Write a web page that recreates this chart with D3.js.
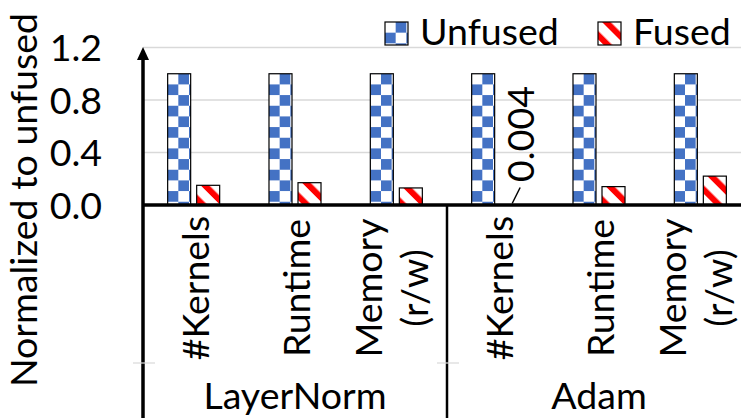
<!DOCTYPE html>
<html><head><meta charset="utf-8">
<script src="https://cdn.jsdelivr.net/npm/d3@7"></script>
<style>html,body{margin:0;padding:0;background:#fff;overflow:hidden}</style>
</head><body><svg id="c" width="741" height="418"></svg>
<script>
// ---- data ----
const groups = ["LayerNorm", "Adam"];
const metrics = [["#Kernels"], ["Runtime"], ["Memory", "(r/w)"]];
const seriesNames = ["Unfused", "Fused"];
const unfused = [1, 1, 1, 1, 1, 1];
const fused = [0.15, 0.17, 0.13, 0.004, 0.14, 0.22];
const fusedLabels = [null, null, null, "0.004", null, null];
const yTicks = [0.0, 0.4, 0.8, 1.2];
const yTitle = "Normalized to unfused";

// ---- style ----
const FONT = "Lato, 'Liberation Sans', sans-serif";
const FS = 37.5;
const BLUE = "#4472C4", RED = "#FF0000";

const svg = d3.select("#c");
svg.append("rect").attr("width", 741).attr("height", 418).attr("fill", "#fff");

const cats = [];
groups.forEach((g, gi) => metrics.forEach((m, mi) => cats.push({g, gi, m, key: g + "|" + m.join(" ")})));

const x0 = d3.scaleBand().domain(cats.map(c => c.key)).range([143, 751]).padding(0);
const x1 = d3.scaleBand().domain(seriesNames).range([0, x0.bandwidth()]).paddingInner(0.207).paddingOuter(0.85);
const y = d3.scaleLinear().domain([0, 1.2]).range([205, 47.5]);

// patterns
const defs = svg.append("defs");
const P = 21.33, h = P / 2;
const chk = defs.append("pattern").attr("id", "chk").attr("patternUnits", "userSpaceOnUse")
  .attr("width", P).attr("height", P);
chk.append("rect").attr("width", P).attr("height", P).attr("fill", "#fff");
chk.append("rect").attr("x", h).attr("y", 0).attr("width", h).attr("height", h).attr("fill", BLUE);
chk.append("rect").attr("x", 0).attr("y", h).attr("width", h).attr("height", h).attr("fill", BLUE);

const SP = P * Math.SQRT1_2;
const str = defs.append("pattern").attr("id", "str").attr("patternUnits", "userSpaceOnUse")
  .attr("width", SP).attr("height", SP).attr("patternTransform", "translate(4,0) rotate(-45)");
str.append("rect").attr("width", SP).attr("height", SP).attr("fill", "#fff");
str.append("rect").attr("x", 0).attr("width", SP * 0.4).attr("height", SP).attr("fill", RED);

// gridlines
svg.append("g").selectAll("line").data(yTicks.filter(t => t > 0)).join("line")
  .attr("x1", 143).attr("x2", 741).attr("y1", d => y(d)).attr("y2", d => y(d))
  .attr("stroke", "#d9d9d9").attr("stroke-width", 1.4);

// bars
const series = [{name: "Unfused", vals: unfused, fill: "url(#chk)"}, {name: "Fused", vals: fused, fill: "url(#str)"}];
series.forEach(s => {
  svg.append("g").selectAll("g").data(cats.map((c, i) => ({c, v: s.vals[i]}))).join("g")
    .attr("transform", d => `translate(${x0(d.c.key) + x1(s.name)},${y(d.v)})`)
    .append("rect")
    .attr("width", x1.bandwidth()).attr("height", d => y(0) - y(d.v))
    .attr("fill", s.fill).attr("stroke", d => d.v > 0.01 ? "#000" : "none").attr("stroke-width", 1.2);
});

// data label 0.004
cats.forEach((c, i) => {
  if (!fusedLabels[i]) return;
  const cx = x0(c.key) + x1("Fused") + x1.bandwidth() / 2;
  const yv = y(fused[i]);
  svg.append("line").attr("x1", cx).attr("y1", yv - 1).attr("x2", cx + 8).attr("y2", yv - 17)
    .attr("stroke", "#000").attr("stroke-width", 1.5);
  svg.append("text").attr("transform", `translate(${cx + 22},${yv - 70.5}) rotate(-90)`)
    .attr("text-anchor", "middle").attr("font-family", FONT).attr("font-size", FS).attr("fill", "#000")
    .text(fusedLabels[i]);
});

// baseline
svg.append("line").attr("x1", 143).attr("x2", 741).attr("y1", y(0)).attr("y2", y(0))
  .attr("stroke", "#000").attr("stroke-width", 3.5);

// y axis with arrow
svg.append("line").attr("x1", 143).attr("x2", 143).attr("y1", 418).attr("y2", 56)
  .attr("stroke", "#000").attr("stroke-width", 3.5);
svg.append("path").attr("d", "M143,47 L137,60 L149,60 Z").attr("fill", "#000");

const yAxis = d3.axisLeft(y).tickValues(yTicks).tickFormat(d3.format(".1f")).tickSize(0).tickPadding(41);
const ya = svg.append("g").attr("transform", "translate(143,0)").call(yAxis);
ya.select(".domain").remove();
ya.selectAll("text").attr("font-family", FONT).attr("font-size", FS).attr("fill", "#000").attr("dy", "0.35em");

// y title
svg.append("text").attr("transform", "translate(37,200) rotate(-90)").attr("text-anchor", "middle")
  .attr("font-family", FONT).attr("font-size", FS).attr("fill", "#000").text(yTitle);

// group separator
svg.append("line").attr("x1", x0(cats[3].key)).attr("x2", x0(cats[3].key)).attr("y1", y(0)).attr("y2", 418)
  .attr("stroke", "#000").attr("stroke-width", 2.5);
// small gray level ticks
[143, x0(cats[3].key)].forEach(xx => {
  svg.append("line").attr("x1", xx - 10).attr("x2", xx + 12).attr("y1", 363).attr("y2", 363)
    .attr("stroke", "#d9d9d9").attr("stroke-width", 1.2);
});

// category labels
cats.forEach(c => {
  const cx = x0(c.key) + x0.bandwidth() / 2;
  const offs = c.m.length === 1 ? [15] : [-14, 32];
  c.m.forEach((line, li) => {
    svg.append("text").attr("transform", `translate(${cx + offs[li]},288) rotate(-90)`)
      .attr("text-anchor", "middle").attr("font-family", FONT).attr("font-size", FS).attr("fill", "#000")
      .text(line);
  });
});

// group labels
groups.forEach((g, gi) => {
  const a = x0(cats[gi * 3].key), b = x0(cats[gi * 3 + 2].key) + x0.bandwidth();
  svg.append("text").attr("x", (a + b) / 2).attr("y", 409).attr("text-anchor", "middle")
    .attr("font-family", FONT).attr("font-size", FS).attr("fill", "#000").text(g);
});

// legend
const legendPos = [{x: 385, tx: 420}, {x: 598, tx: 633}];
series.forEach((s, i) => {
  const lg = svg.append("g").attr("transform", `translate(${legendPos[i].x},22)`);
  lg.append("rect").attr("width", 23).attr("height", 23).attr("fill", s.fill).attr("stroke", "#000").attr("stroke-width", 1.2);
  svg.append("text").attr("x", legendPos[i].tx).attr("y", 45).attr("font-family", FONT).attr("font-size", FS)
    .attr("fill", "#000").text(s.name);
});
</script></body></html>
